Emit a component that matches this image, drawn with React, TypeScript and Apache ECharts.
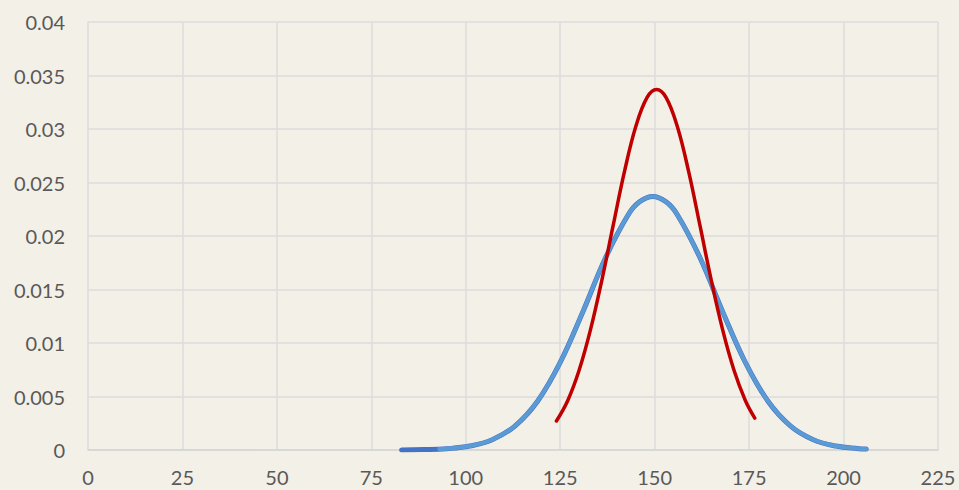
import React, { useEffect, useRef } from "react";
import * as echarts from "echarts";

// x tick labels / axis range
const xTicks = [0, 25, 50, 75, 100, 125, 150, 175, 200, 225];
const yTicks = [0, 0.005, 0.01, 0.015, 0.02, 0.025, 0.03, 0.035, 0.04];

// Red curve (narrow distribution)
const redX = [124, 127, 130, 133, 136, 139, 142, 145, 148, 150.5, 153, 156, 159, 162, 165, 168, 171, 174, 176.5];
const redY = [0.00271, 0.00463, 0.00745, 0.01122, 0.01584, 0.02096, 0.02601, 0.03023, 0.03296, 0.0337, 0.03296, 0.03023, 0.02601, 0.02096, 0.01584, 0.01122, 0.00745, 0.00463, 0.00298];

// Dark blue curve (wide distribution, full range)
const darkBlueX = [83, 89, 95, 101, 107, 113, 119, 125, 131, 137, 143, 146, 149.5, 153, 156, 162, 168, 174, 180, 186, 192, 198, 204, 206];
const darkBlueY = [0.00001, 0.000036, 0.000123, 0.000367, 0.000966, 0.00224, 0.00456, 0.00819, 0.01293, 0.01797, 0.02199, 0.02319, 0.0237, 0.02319, 0.02199, 0.01797, 0.01293, 0.00819, 0.00456, 0.00224, 0.000966, 0.000367, 0.000123, 0.000083];

// Light blue curve (wide distribution, overlaid)
const lightBlueX = [93, 95, 101, 107, 113, 119, 125, 131, 137, 143, 146, 149.5, 153, 156, 162, 168, 174, 180, 186, 192, 198, 204, 206];
const lightBlueY = [0.00009, 0.000123, 0.000367, 0.000966, 0.00224, 0.00456, 0.00819, 0.01293, 0.01797, 0.02199, 0.02319, 0.0237, 0.02319, 0.02199, 0.01797, 0.01293, 0.00819, 0.00456, 0.00224, 0.000966, 0.000367, 0.000123, 0.000083];

const zip = (xs: number[], ys: number[]) => xs.map((x, i) => [x, ys[i]]);

export default function App() {
  const ref = useRef<HTMLDivElement>(null);
  useEffect(() => {
    if (!ref.current) return;
    const chart = echarts.init(ref.current, undefined, { renderer: "svg" });
    const labelStyle = {
      color: "#595959",
      fontSize: 20,
      fontFamily: "Lato, 'Open Sans', sans-serif",
    };
    chart.setOption({
      animation: false,
      backgroundColor: "#f3f0e7",
      grid: { left: 88, right: 21, top: 22, bottom: 40, containLabel: false },
      xAxis: {
        type: "value",
        min: xTicks[0],
        max: xTicks[xTicks.length - 1],
        interval: 25,
        axisLine: { show: true, lineStyle: { color: "#d4d4d4", width: 1.5 } },
        axisTick: { show: false },
        splitLine: { show: true, lineStyle: { color: "#dcdcdc", width: 1.5 } },
        axisLabel: { ...labelStyle, margin: 17 },
      },
      yAxis: {
        type: "value",
        min: yTicks[0],
        max: yTicks[yTicks.length - 1],
        interval: 0.005,
        axisLine: { show: false },
        axisTick: { show: false },
        splitLine: { show: true, lineStyle: { color: "#dcdcdc", width: 1.5 } },
        axisLabel: { ...labelStyle, margin: 23, formatter: (v: number) => String(+v.toFixed(3)) },
      },
      series: [
        {
          type: "line",
          data: zip(darkBlueX, darkBlueY),
          smooth: 0.4,
          showSymbol: false,
          lineStyle: { color: "#4472c4", width: 5, cap: "round" },
          z: 2,
        },
        {
          type: "line",
          data: zip(lightBlueX, lightBlueY),
          smooth: 0.4,
          showSymbol: false,
          lineStyle: { color: "#5b9bd5", width: 4, cap: "round" },
          z: 3,
        },
        {
          type: "line",
          data: zip(redX, redY),
          smooth: 0.4,
          showSymbol: false,
          lineStyle: { color: "#c00000", width: 3.5, cap: "round" },
          z: 4,
        },
      ],
    });
    return () => chart.dispose();
  }, []);
  return (
    <div
      ref={ref}
      style={{ position: "fixed", left: 0, top: 0, width: 959, height: 490 }}
    />
  );
}
